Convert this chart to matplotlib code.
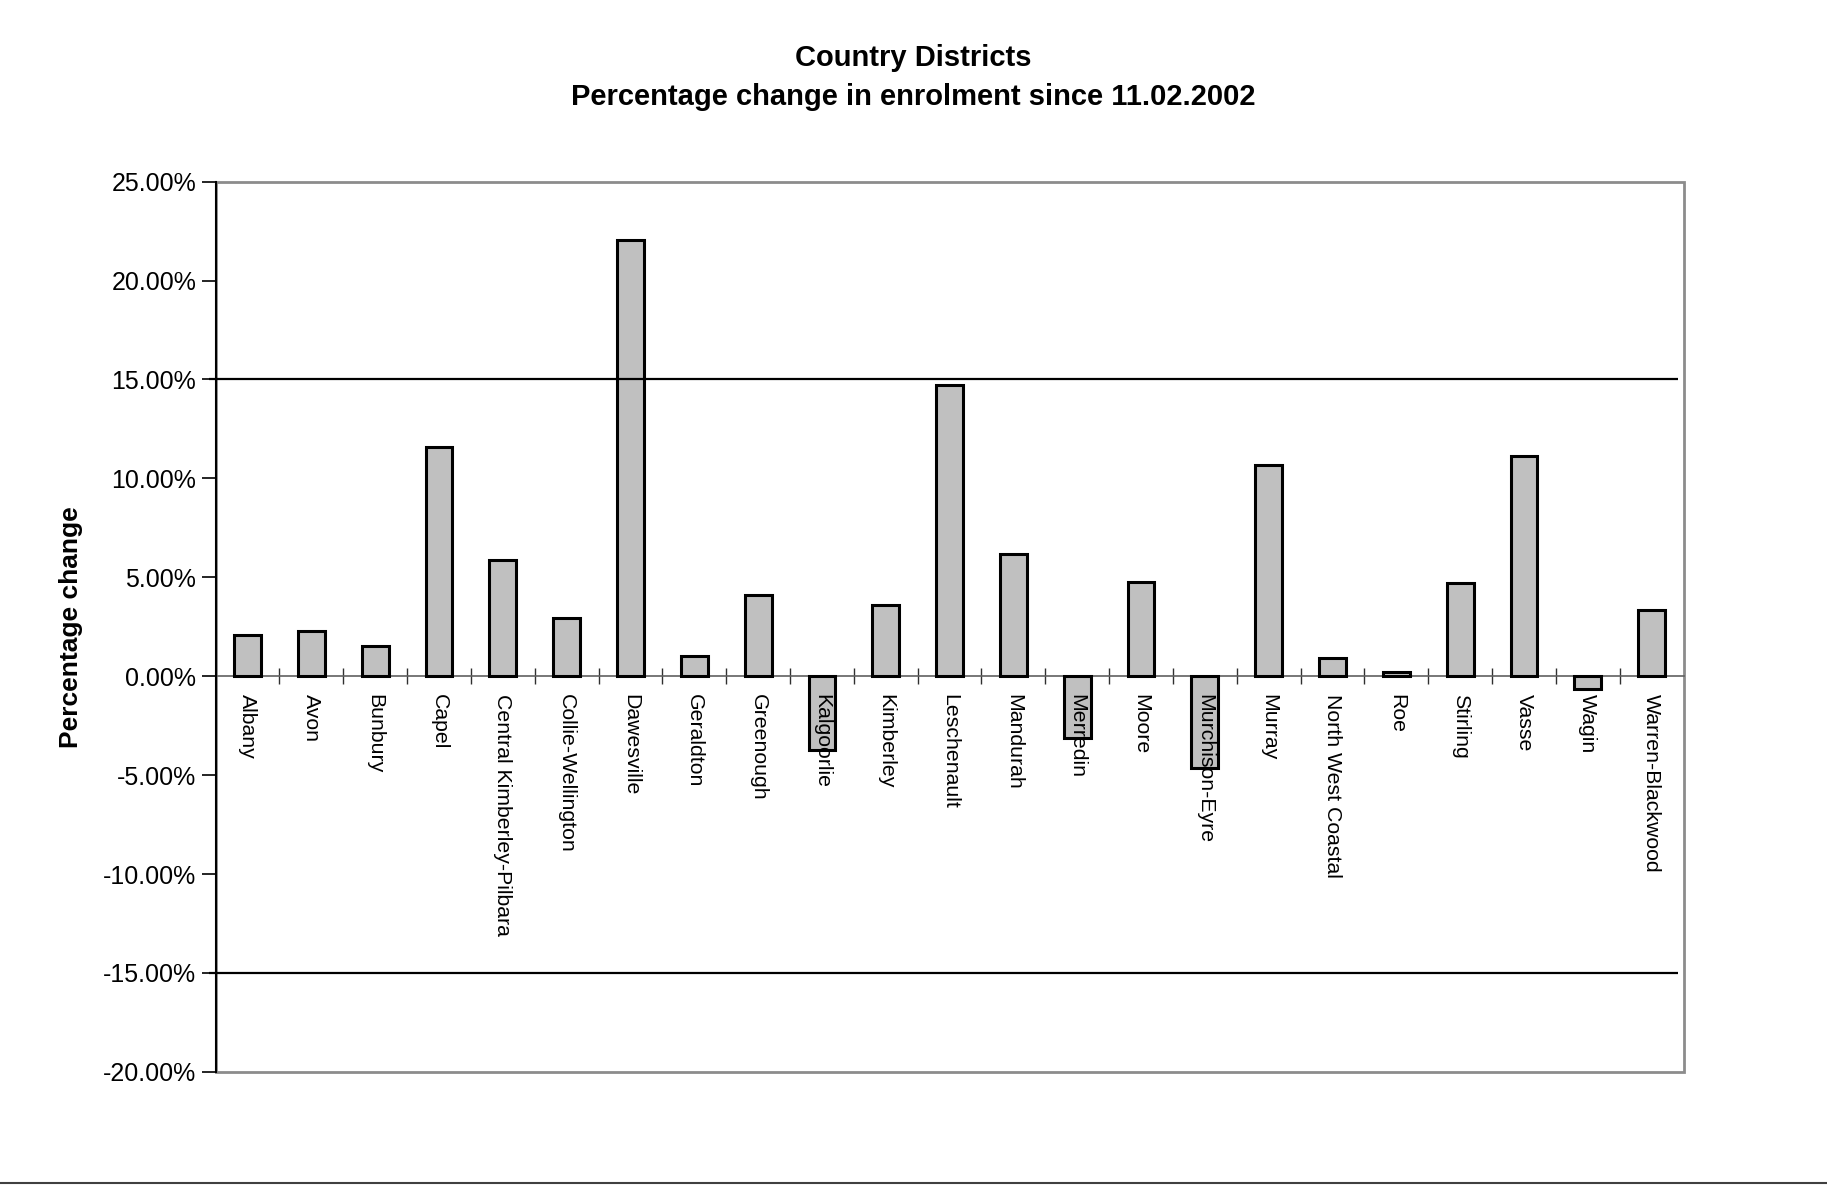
import matplotlib
matplotlib.use("Agg")
import matplotlib.pyplot as plt
import matplotlib.ticker as plticker
from matplotlib.patches import Rectangle
from matplotlib.lines import Line2D

plt.rcParams['font.family'] = ['Liberation Sans', 'DejaVu Sans']

districts = ['Albany', 'Avon', 'Bunbury', 'Capel', 'Central Kimberley-Pilbara',
             'Collie-Wellington', 'Dawesville', 'Geraldton', 'Greenough',
             'Kalgoorlie', 'Kimberley', 'Leschenault', 'Mandurah', 'Merredin',
             'Moore', 'Murchison-Eyre', 'Murray', 'North West Coastal', 'Roe',
             'Stirling', 'Vasse', 'Wagin', 'Warren-Blackwood']
pct_change = [2.07, 2.30, 1.55, 11.58, 5.88, 2.96, 22.05, 1.04, 4.11,
              -3.72, 3.60, 14.70, 6.17, -3.10, 4.74,
              -4.62, 10.66, 0.92, 0.20, 4.70, 11.12, -0.64, 3.35]
ytick_vals = [-20, -15, -10, -5, 0, 5, 10, 15, 20, 25]
ref_lines = [15, -15]

fig = plt.figure(figsize=(18.27, 11.87), dpi=100)
ax = fig.add_axes([0.118, 0.097, 0.8035, 0.750])

x = list(range(len(districts)))
ax.bar(x, pct_change, width=0.42, color='#c0c0c0', edgecolor='black',
       linewidth=2.2, zorder=3)

ax.set_xlim(-0.5, len(districts) - 0.5)
ax.set_ylim(-20, 25)
ax.set_yticks(ytick_vals)
ax.yaxis.set_major_formatter(plticker.FuncFormatter(lambda v, p: '%.2f%%' % v))
ax.tick_params(axis='y', labelsize=18, length=10, width=1.2, direction='out', pad=4)

# category boundary ticks sitting on the zero line
ax.spines['bottom'].set_position(('data', 0))
ax.spines['bottom'].set_color('#606060')
ax.spines['bottom'].set_linewidth(1.2)
ax.set_xticks([i + 0.5 for i in x[:-1]])
ax.set_xticklabels([])
ax.tick_params(axis='x', direction='inout', length=12, width=1.0, color='#303030')

for s in ['top', 'right']:
    ax.spines[s].set_visible(False)
ax.spines['left'].set_color('black')
ax.spines['left'].set_linewidth(1.5)
ax.spines['left'].set_zorder(5)
ax.add_patch(Rectangle((0, 0), 1, 1, transform=ax.transAxes, fill=False,
                       edgecolor='#8c8c8c', linewidth=2.0, zorder=1, clip_on=False))

for i, name in enumerate(districts):
    ax.annotate(name, (i, 0), xytext=(0, -18), textcoords='offset pixels',
                rotation=-90, ha='center', va='top', fontsize=15.3, zorder=6)

for r in ref_lines:
    ax.hlines(r, -0.6, len(districts) - 0.58, colors='black', linewidth=1.6,
              zorder=4, clip_on=False)

ax.set_ylabel('Percentage change', fontsize=19, fontweight='bold', labelpad=14)

fig.text(0.5, 0.951, 'Country Districts', ha='center', va='center',
         fontsize=21, fontweight='bold')
fig.text(0.5, 0.918, 'Percentage change in enrolment since 11.02.2002',
         ha='center', va='center', fontsize=21, fontweight='bold')

fig.add_artist(Line2D([0, 1], [0.003, 0.003], transform=fig.transFigure,
                      color='#404040', linewidth=1.5))

fig.savefig('out.png', dpi=100)
